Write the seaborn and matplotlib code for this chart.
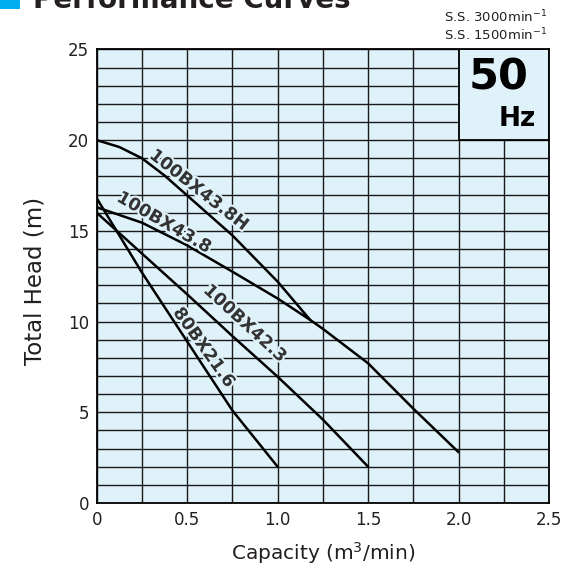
import matplotlib
matplotlib.use("Agg")
import matplotlib.pyplot as plt
import matplotlib.patheffects as pe
from matplotlib.patches import Rectangle
import numpy as np
import pandas as pd
import seaborn as sns

# ---------------- data ----------------
models = ["100BX43.8H", "100BX43.8", "100BX42.3", "80BX21.6"]
flow_438h = [0, 0.125, 0.25, 0.375, 0.5, 0.75, 1.0, 1.18]
head_438h = [20.0, 19.62, 19.0, 18.05, 16.95, 14.75, 12.2, 10.09]
flow_438 = [0, 0.25, 0.5, 0.75, 1.0, 1.18, 1.25, 1.5, 1.75, 2.0]
head_438 = [16.3, 15.45, 14.2, 12.75, 11.27, 10.09, 9.6, 7.7, 5.2, 2.8]
flow_423 = [0, 0.25, 0.5, 0.75, 1.0, 1.25, 1.5]
head_423 = [16.0, 13.75, 11.5, 9.2, 6.96, 4.6, 2.0]
flow_216 = [0, 0.25, 0.5, 0.75, 1.0]
head_216 = [16.8, 12.7, 8.9, 5.1, 2.0]

x_ticks = [0, 0.5, 1.0, 1.5, 2.0, 2.5]
x_ticklabels = ["0", "0.5", "1.0", "1.5", "2.0", "2.5"]
y_ticks = [0, 5, 10, 15, 20, 25]
y_ticklabels = ["0", "5", "10", "15", "20", "25"]

title = "Performance Curves"
speed_lines = ["S.S. 3000min$^{-1}$", "S.S. 1500min$^{-1}$"]
freq_big, freq_unit = "50", "Hz"

# ---------------- style ----------------
sns.set_theme(style="white")
plt.rcParams["font.family"] = ["DejaVu Sans"]
plt.rcParams["mathtext.fontset"] = "dejavusans"

BG = "#dff2fa"
INK = "#231f20"

frames = []
for name, fx, hy in [(models[0], flow_438h, head_438h),
                     (models[1], flow_438, head_438),
                     (models[2], flow_423, head_423),
                     (models[3], flow_216, head_216)]:
    frames.append(pd.DataFrame({"flow": fx, "head": hy, "model": name}))
df = pd.concat(frames, ignore_index=True)

W, H = 567, 573
fig = plt.figure(figsize=(W / 100, H / 100), dpi=100)
ax = fig.add_axes([96.7 / W, 1 - 503 / H, (549 - 96.7) / W, (503 - 49.4) / H])
ax.set_facecolor(BG)

sns.lineplot(data=df, x="flow", y="head", hue="model", units="model",
             estimator=None, sort=False, palette=["black"] * 4,
             linewidth=1.8, legend=False, ax=ax, zorder=3)

ax.set_xlim(0, 2.5)
ax.set_ylim(0, 25)
ax.set_xticks(x_ticks)
ax.set_xticklabels(x_ticklabels)
ax.set_yticks(y_ticks)
ax.set_yticklabels(y_ticklabels)
ax.set_xticks(np.arange(0, 2.51, 0.25), minor=True)
ax.set_yticks(np.arange(0, 25.1, 1), minor=True)
ax.grid(True, which="both", color="#1a1a1a", linewidth=1.0, zorder=1)
ax.set_axisbelow(True)
ax.tick_params(which="both", length=0)
ax.tick_params(axis="x", pad=6, labelsize=12, labelcolor=INK)
ax.tick_params(axis="y", pad=5.5, labelsize=12, labelcolor=INK)
for s in ax.spines.values():
    s.set_color("black")
    s.set_linewidth(1.3)

ax.set_xlabel("Capacity (m$^3$/min)", fontsize=14.5, color=INK)
ax.set_ylabel("Total Head (m)", fontsize=16.5, color=INK)
ax.xaxis.label.set_va("center")
ax.yaxis.label.set_va("center")
ax.xaxis.set_label_coords(0.5, -0.11)
ax.yaxis.set_label_coords(-0.136, 0.489)

# 50 Hz box
ax.add_patch(Rectangle((2.0, 20), 0.5, 5, facecolor=BG, edgecolor="black",
                       linewidth=1.3, zorder=2.5))
ax.text(2.223, 23.46, freq_big, fontsize=31, fontweight="bold", color="black",
        ha="center", va="center", zorder=4)
ax.text(2.325, 21.17, freq_unit, fontsize=19, fontweight="bold", color="black",
        ha="center", va="center", zorder=4)

# curve labels
label_layout = {
    models[0]: (0.565, 17.25, -38),
    models[1]: (0.372, 15.46, -30),
    models[2]: (0.819, 9.9, -42.6),
    models[3]: (0.593, 8.57, -54.5),
}
for name, (lx, ly, rot) in label_layout.items():
    ax.text(lx, ly, name, fontsize=12.5, fontweight="bold", color="#333333",
            rotation=rot, rotation_mode="anchor", ha="center", va="center",
            zorder=4, path_effects=[pe.withStroke(linewidth=3, foreground=BG)])

# title & speed notes
fig.patches.append(Rectangle((0, 1 - 9 / H), 20 / W, 20 / H,
                             transform=fig.transFigure, facecolor="#00aeef",
                             edgecolor="none"))
fig.text(33 / W, 1 - 8 / H, title, fontsize=20, fontweight="bold", color=INK,
         ha="left", va="baseline")
fig.text(547 / W, 1 - 17 / H, speed_lines[0], fontsize=9.5, color=INK,
         ha="right", va="center")
fig.text(547 / W, 1 - 35 / H, speed_lines[1], fontsize=9.5, color=INK,
         ha="right", va="center")

fig.savefig("out.png", dpi=100)
